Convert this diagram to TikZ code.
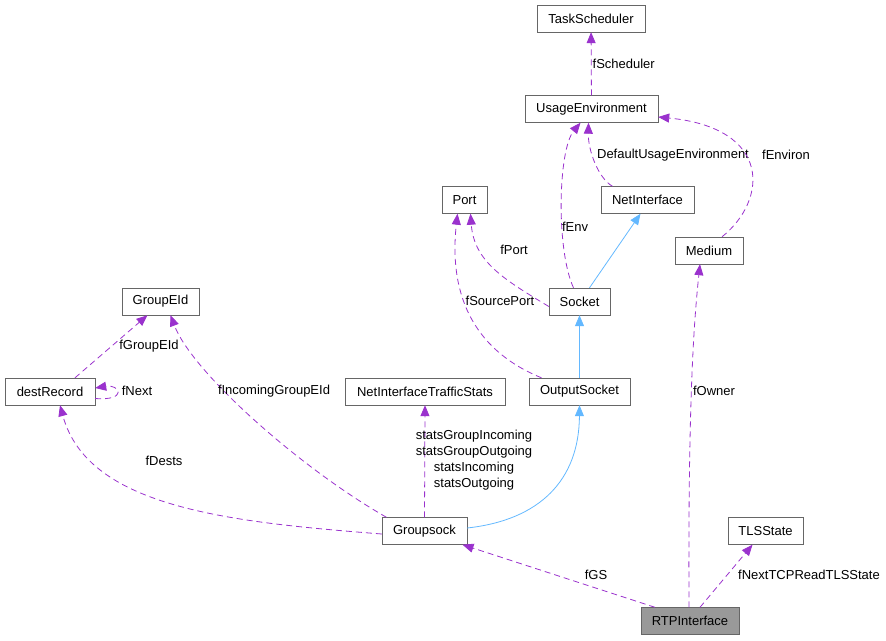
\documentclass[tikz,border=0pt]{standalone}
\usepackage{fontspec}
\setmainfont{Liberation Sans}
\usetikzlibrary{arrows.meta}
\definecolor{usecol}{HTML}{9A32CD}
\definecolor{inhcol}{HTML}{63B8FF}
\definecolor{boxcol}{HTML}{666666}
\begin{document}
\begin{tikzpicture}[x=1pt,y=-1pt,
  cls/.style={draw=boxcol,fill=white,minimum height=27pt,inner sep=0pt,font=\fontsize{13}{15}\selectfont},
  uses/.style={draw=usecol,line width=0.8pt,dash pattern=on 6pt off 4pt,
    -{Triangle[length=11pt,width=9pt,fill=usecol]}},
  inh/.style={draw=inhcol,line width=0.8pt,-{Triangle[length=11pt,width=9pt,fill=inhcol]}},
  lbl/.style={font=\fontsize{13}{16}\selectfont,inner sep=1pt}]
\useasboundingbox (0,0) rectangle (886,640);
% classes
\node[cls,minimum width=108pt] (ts) at (591,18.5) {TaskScheduler};
\node[cls,minimum width=133pt] (ue) at (591.5,109) {UsageEnvironment};
\node[cls,minimum width=45pt] (port) at (464.5,200) {Port};
\node[cls,minimum width=93pt] (ni) at (647.5,200) {NetInterface};
\node[cls,minimum width=68pt] (med) at (709,250.5) {Medium};
\node[cls,minimum width=77pt] (ge) at (160.5,301.5) {GroupEId};
\node[cls,minimum width=61pt] (sock) at (579.5,301.5) {Socket};
\node[cls,minimum width=90pt] (dest) at (50,391.5) {destRecord};
\node[cls,minimum width=160pt] (nits) at (425,391.5) {NetInterfaceTrafficStats};
\node[cls,minimum width=101pt] (os) at (579.5,391.5) {OutputSocket};
\node[cls,minimum width=85pt] (gs) at (424.5,531) {Groupsock};
\node[cls,minimum width=75pt] (tls) at (765.5,531) {TLSState};
\node[cls,minimum width=98pt,fill=black!40] (rtp) at (690,621) {RTPInterface};
% inheritance
\draw[inh] ([xshift=10pt]sock.north) -- ([xshift=-7pt]ni.south);
\draw[inh] (os.north) -- (sock.south);
\draw[inh] ([yshift=3pt]gs.east) .. controls (540,520) and (579,480) .. (os.south);
% members
\draw[uses] (ue) -- node[lbl,right] {fScheduler} (ts);
\draw[uses] ([xshift=-6pt]sock.north) .. controls (556,250) and (558,150) .. ([xshift=-11pt]ue.south);
\node[lbl] (lenv) at (575,227) {fEnv};
\draw[uses] ([xshift=-35pt]ni.north) .. controls (598,178) and (588,150) .. ([xshift=-3pt]ue.south);
\node[lbl] (ldue) at (673,155) {DefaultUsageEnvironment};
\draw[uses] ([xshift=13pt]med.north) .. controls (768,200) and (772,128) .. ([yshift=-8pt]ue.east);
\node[lbl] (lenvi) at (786,155) {fEnviron};
\draw[uses] ([yshift=-5pt]sock.west) .. controls (505,280) and (474,262) .. ([xshift=6pt]port.south);
\node[lbl] (lport) at (514,250) {fPort};
\draw[uses] ([xshift=-38pt]os.north) .. controls (478,352) and (448,300) .. ([xshift=-7pt]port.south);
\node[lbl] (lsport) at (500,301) {fSourcePort};
\draw[uses] ([xshift=25pt]dest.north) -- ([xshift=-13pt]ge.south);
\node[lbl] (lgeid) at (149,346) {fGroupEId};
\draw[uses] ([yshift=-7pt]dest.east) .. controls (128,401) and (120,384) .. ([yshift=3.5pt]dest.east);
\node[lbl] (lnext) at (137,391) {fNext};
\draw[uses] ([xshift=-38pt]gs.north) .. controls (300,468) and (192,372) .. ([xshift=10pt]ge.south);
\node[lbl] (linc) at (274,391) {fIncomingGroupEId};
\draw[uses] ([yshift=-3pt]gs.west) .. controls (230,522) and (88,508) .. ([xshift=10pt]dest.south);
\node[lbl] (ldest) at (164,461) {fDests};
\draw[uses] (gs.north) -- (nits.south);
\node[lbl,align=center] (lstats) at (474,460) {statsGroupIncoming\\statsGroupOutgoing\\statsIncoming\\statsOutgoing};
\draw[uses] ([xshift=-35pt]rtp.north) -- ([xshift=38pt]gs.south);
\node[lbl] (lgs) at (596,575) {fGS};
\draw[uses] ([xshift=-1pt]rtp.north) .. controls (688,400) and (694,320) .. ([xshift=-9pt]med.south);
\node[lbl] (lown) at (714,391) {fOwner};
\draw[uses] ([xshift=10pt]rtp.north) -- ([xshift=-13pt]tls.south);
\node[lbl] (ltls) at (809,575) {fNextTCPReadTLSState};
\end{tikzpicture}
\end{document}
